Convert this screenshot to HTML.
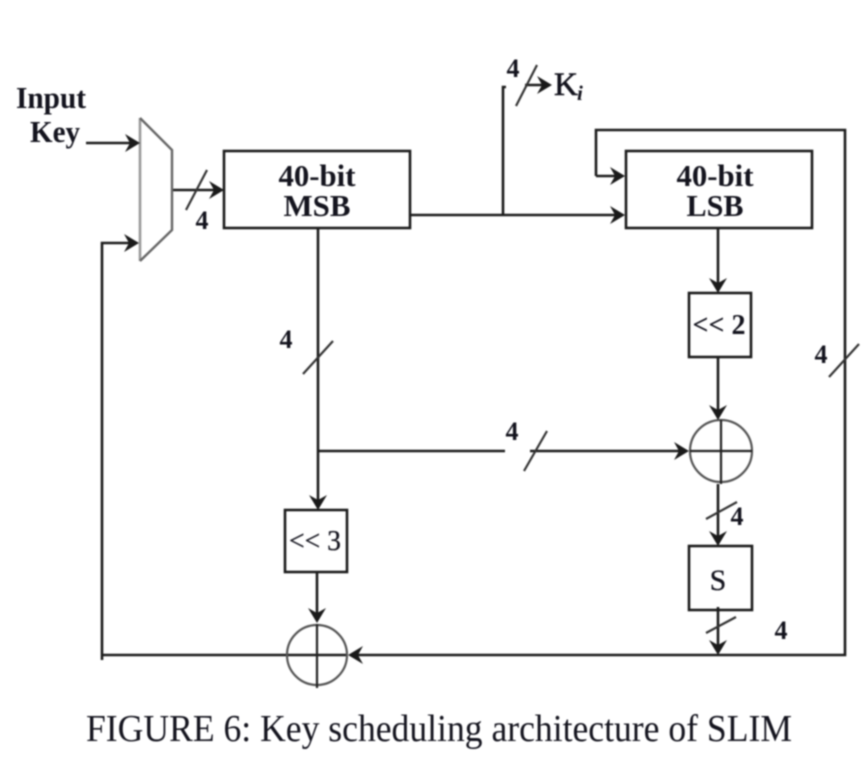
<!DOCTYPE html>
<html><head><meta charset="utf-8">
<style>
html,body{margin:0;padding:0;background:#fff;width:868px;height:777px;overflow:hidden}
svg{display:block;filter:blur(0.7px)}
text{font-family:"Liberation Serif",serif;fill:#14141e}
.b{font-weight:bold;font-size:31px}
.n{font-weight:bold;font-size:26px}
</style></head><body>
<svg width="868" height="777" viewBox="0 0 868 777" xmlns="http://www.w3.org/2000/svg">
<defs>
<g id="r"><path d="M0 0L-15 -9L-10 0L-15 9Z" fill="#1a1a1a"/></g>
</defs>
<g fill="none" stroke="#1c1c1c" stroke-width="2.6">
<rect x="224" y="151" width="186" height="77"/>
<rect x="626" y="151" width="186" height="77"/>
<rect x="689" y="293" width="62" height="64"/>
<rect x="285" y="510" width="62" height="62"/>
<rect x="689" y="546" width="63" height="64"/>
<path d="M86 143H136"/>
<path d="M172 190H222"/>
<path d="M102 660V243H136"/>
<path d="M410 215H622"/>
<path d="M503 215V87H506"/>
<path d="M525 85H548"/>
<path d="M596 176V130H845V655H352"/>
<path d="M596 176H622"/>
<path d="M718 228V290"/>
<path d="M718 357V418"/>
<path d="M318 228V506"/>
<path d="M318 451H505"/>
<path d="M530 451H686"/>
<path d="M718 484V543"/>
<path d="M718 607V652"/>
<path d="M317 572V620"/>
<path d="M102 655H346"/>
</g>
<path d="M140 118V261" fill="none" stroke="#999" stroke-width="2.6"/>
<path d="M140 118L172 150V230L140 261" fill="none" stroke="#666" stroke-width="2.4"/>
<g fill="none" stroke="#555" stroke-width="2.2">
<circle cx="721" cy="451" r="31"/>
<circle cx="317" cy="655" r="30"/>
</g>
<g fill="none" stroke="#222" stroke-width="2.2">
<path d="M721 420V484M690 451H752"/>
<path d="M317 624V688"/>
</g>
<g fill="none" stroke="#333" stroke-width="2.2">
<path d="M186 210L207 170"/>
<path d="M516 106L537 65"/>
<path d="M303 374L333 341"/>
<path d="M524 471L547 431"/>
<path d="M829 377L859 344"/>
<path d="M706 519L737 502"/>
<path d="M706 633L736 617"/>
</g>
<g>
<use href="#r" transform="translate(140,143)"/>
<use href="#r" transform="translate(139,243)"/>
<use href="#r" transform="translate(224,190)"/>
<use href="#r" transform="translate(552,85)"/>
<use href="#r" transform="translate(625,176)"/>
<use href="#r" transform="translate(625,215)"/>
<use href="#r" transform="translate(718,293) rotate(90)"/>
<use href="#r" transform="translate(718,420) rotate(90)"/>
<use href="#r" transform="translate(689,451)"/>
<use href="#r" transform="translate(718,546) rotate(90)"/>
<use href="#r" transform="translate(718,655) rotate(90)"/>
<use href="#r" transform="translate(318,510) rotate(90)"/>
<use href="#r" transform="translate(317,623) rotate(90)"/>
<use href="#r" transform="translate(348,655) rotate(180)"/>
</g>
<text class="b" x="51" y="108" text-anchor="middle" textLength="70" lengthAdjust="spacingAndGlyphs">Input</text>
<text class="b" x="55" y="142" text-anchor="middle" textLength="50" lengthAdjust="spacingAndGlyphs">Key</text>
<text class="b" x="317" y="186" text-anchor="middle" textLength="77" lengthAdjust="spacingAndGlyphs">40-bit</text>
<text class="b" x="317" y="216" text-anchor="middle" textLength="67" lengthAdjust="spacingAndGlyphs">MSB</text>
<text class="b" x="715" y="186" text-anchor="middle" textLength="77" lengthAdjust="spacingAndGlyphs">40-bit</text>
<text class="b" x="715" y="216" text-anchor="middle" textLength="57" lengthAdjust="spacingAndGlyphs">LSB</text>
<text class="b" x="719" y="334" text-anchor="middle" textLength="53" lengthAdjust="spacingAndGlyphs" style="font-size:29px">&lt;&lt; 2</text>
<text class="b" x="315" y="550" text-anchor="middle" textLength="52" lengthAdjust="spacingAndGlyphs" style="font-size:29px;stroke:#14141e;stroke-width:.3;font-weight:normal">&lt;&lt; 3</text>
<text class="b" x="718" y="590" text-anchor="middle" style="font-size:30px;font-weight:normal;stroke:#14141e;stroke-width:.3">S</text>
<text class="b" x="554" y="95" style="font-size:33px;font-weight:normal;stroke:#14141e;stroke-width:.6" textLength="24" lengthAdjust="spacingAndGlyphs">K</text>
<text x="577" y="100" style="font-size:21px;font-style:italic;font-weight:bold">i</text>
<text class="n" x="202" y="229" text-anchor="middle">4</text>
<text class="n" x="513" y="77" text-anchor="middle">4</text>
<text class="n" x="286" y="348" text-anchor="middle">4</text>
<text class="n" x="512" y="440" text-anchor="middle">4</text>
<text class="n" x="821" y="363" text-anchor="middle">4</text>
<text class="n" x="737" y="525" text-anchor="middle">4</text>
<text class="n" x="781" y="639" text-anchor="middle">4</text>
<text x="439" y="741" text-anchor="middle" textLength="706" lengthAdjust="spacingAndGlyphs" style="font-size:38px">FIGURE 6: Key scheduling architecture of SLIM</text>
</svg>
</body></html>
